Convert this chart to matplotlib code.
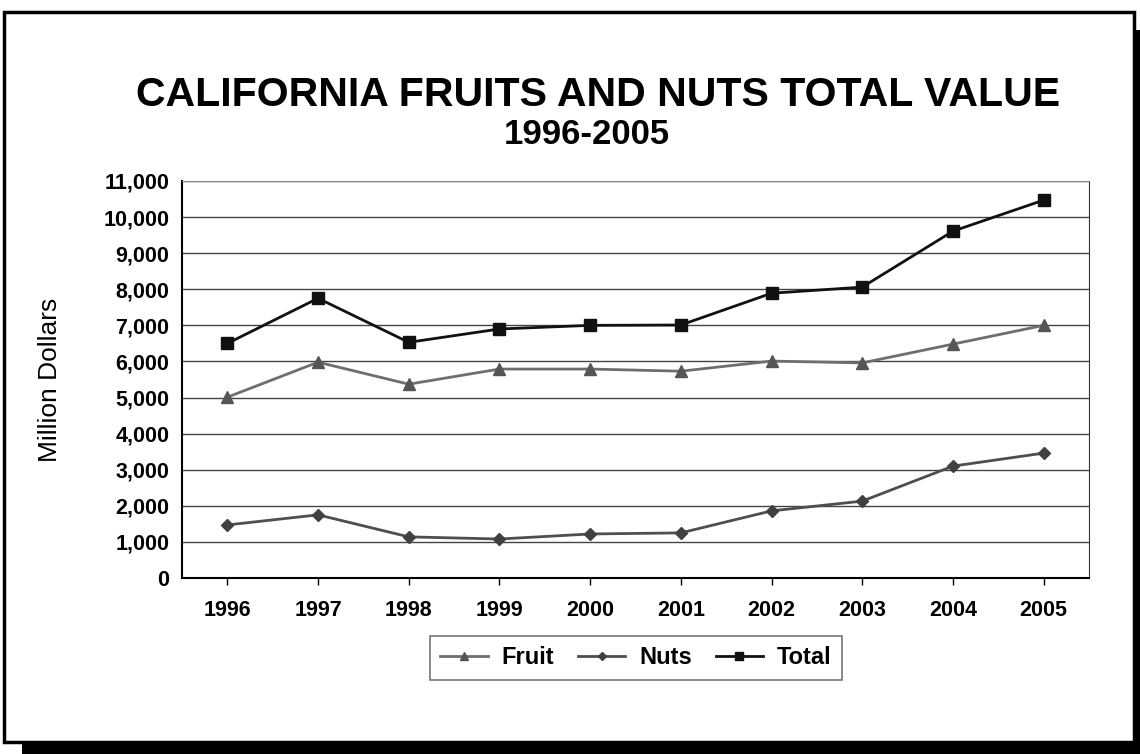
import matplotlib.pyplot as plt
from matplotlib.patches import Rectangle
from matplotlib.ticker import FuncFormatter

plt.rcParams['font.family'] = ['Liberation Sans', 'DejaVu Sans']

years = ['1996', '1997', '1998', '1999', '2000', '2001', '2002', '2003', '2004', '2005']
fruit = [5010, 5980, 5370, 5790, 5790, 5730, 6010, 5960, 6480, 7000]
nuts = [1470, 1750, 1140, 1080, 1220, 1250, 1860, 2130, 3100, 3460]
total = [6500, 7750, 6530, 6900, 7000, 7010, 7890, 8060, 9610, 10470]

W, H = 1140, 754
fig = plt.figure(figsize=(W / 100, H / 100), dpi=100)

# drop shadow + outer frame
fig.patches.append(Rectangle((22 / W, 0), (W - 22) / W, 14 / H, transform=fig.transFigure,
                             facecolor='black', edgecolor='none', zorder=0))
fig.patches.append(Rectangle((1133 / W, 0), 7 / W, (H - 30) / H, transform=fig.transFigure,
                             facecolor='black', edgecolor='none', zorder=0))
fig.patches.append(Rectangle((4 / W, 12 / H), 1130 / W, 730 / H, transform=fig.transFigure,
                             facecolor='white', edgecolor='black', linewidth=2.5, zorder=0.5))

ax = fig.add_axes([182 / W, 1 - 578 / H, (1089 - 182) / W, (578 - 181) / H])
ax.set_zorder(2)
x = range(len(years))
ax.plot(x, fruit, color='#6e6e6e', lw=2, marker='^', ms=9, mfc='#555555', mec='#555555', label='Fruit')
ax.plot(x, nuts, color='#4e4e4e', lw=2, marker='D', ms=6, mfc='#404040', mec='#404040', label='Nuts')
ax.plot(x, total, color='#111111', lw=2, marker='s', ms=8, mfc='#111111', mec='#111111', label='Total')

ax.set_xlim(-0.5, len(years) - 0.5)
ax.set_ylim(0, 11000)
ax.set_yticks(range(0, 11001, 1000))
ax.yaxis.set_major_formatter(FuncFormatter(lambda v, p: f'{int(v):,}'))
ax.set_xticks(list(x))
ax.set_xticklabels(years)
ax.yaxis.grid(True, color='#444444', lw=1)
ax.set_axisbelow(True)
for lab in ax.get_xticklabels() + ax.get_yticklabels():
    lab.set_fontweight('bold')
    lab.set_fontsize(15.5)
ax.tick_params(axis='y', length=0, pad=9)
ax.tick_params(axis='x', length=5, width=1, pad=11, direction='out')
ax.spines['left'].set_linewidth(1.5)
ax.spines['bottom'].set_linewidth(1.5)
ax.spines['top'].set_color('#888888')
ax.spines['right'].set_color('#333333')
ax.set_ylabel('Million Dollars', fontsize=19, labelpad=30)

fig.text(598 / W, 1 - 95 / H, 'CALIFORNIA FRUITS AND NUTS TOTAL VALUE', ha='center', va='center',
         fontsize=29.5, fontweight='bold')
fig.text(587 / W, 1 - 135 / H, '1996-2005', ha='center', va='center', fontsize=25, fontweight='bold')

leg = fig.legend(loc='center', bbox_to_anchor=(636 / W, 1 - 658 / H), ncol=3, frameon=True,
                 fancybox=False, edgecolor='#555555', prop={'weight': 'bold', 'size': 17},
                 handlelength=2.0, columnspacing=1.0, handletextpad=0.6, markerscale=0.7,
                 borderpad=0.45)
leg.get_frame().set_linewidth(1.2)

fig.savefig('out.png', dpi=100)
